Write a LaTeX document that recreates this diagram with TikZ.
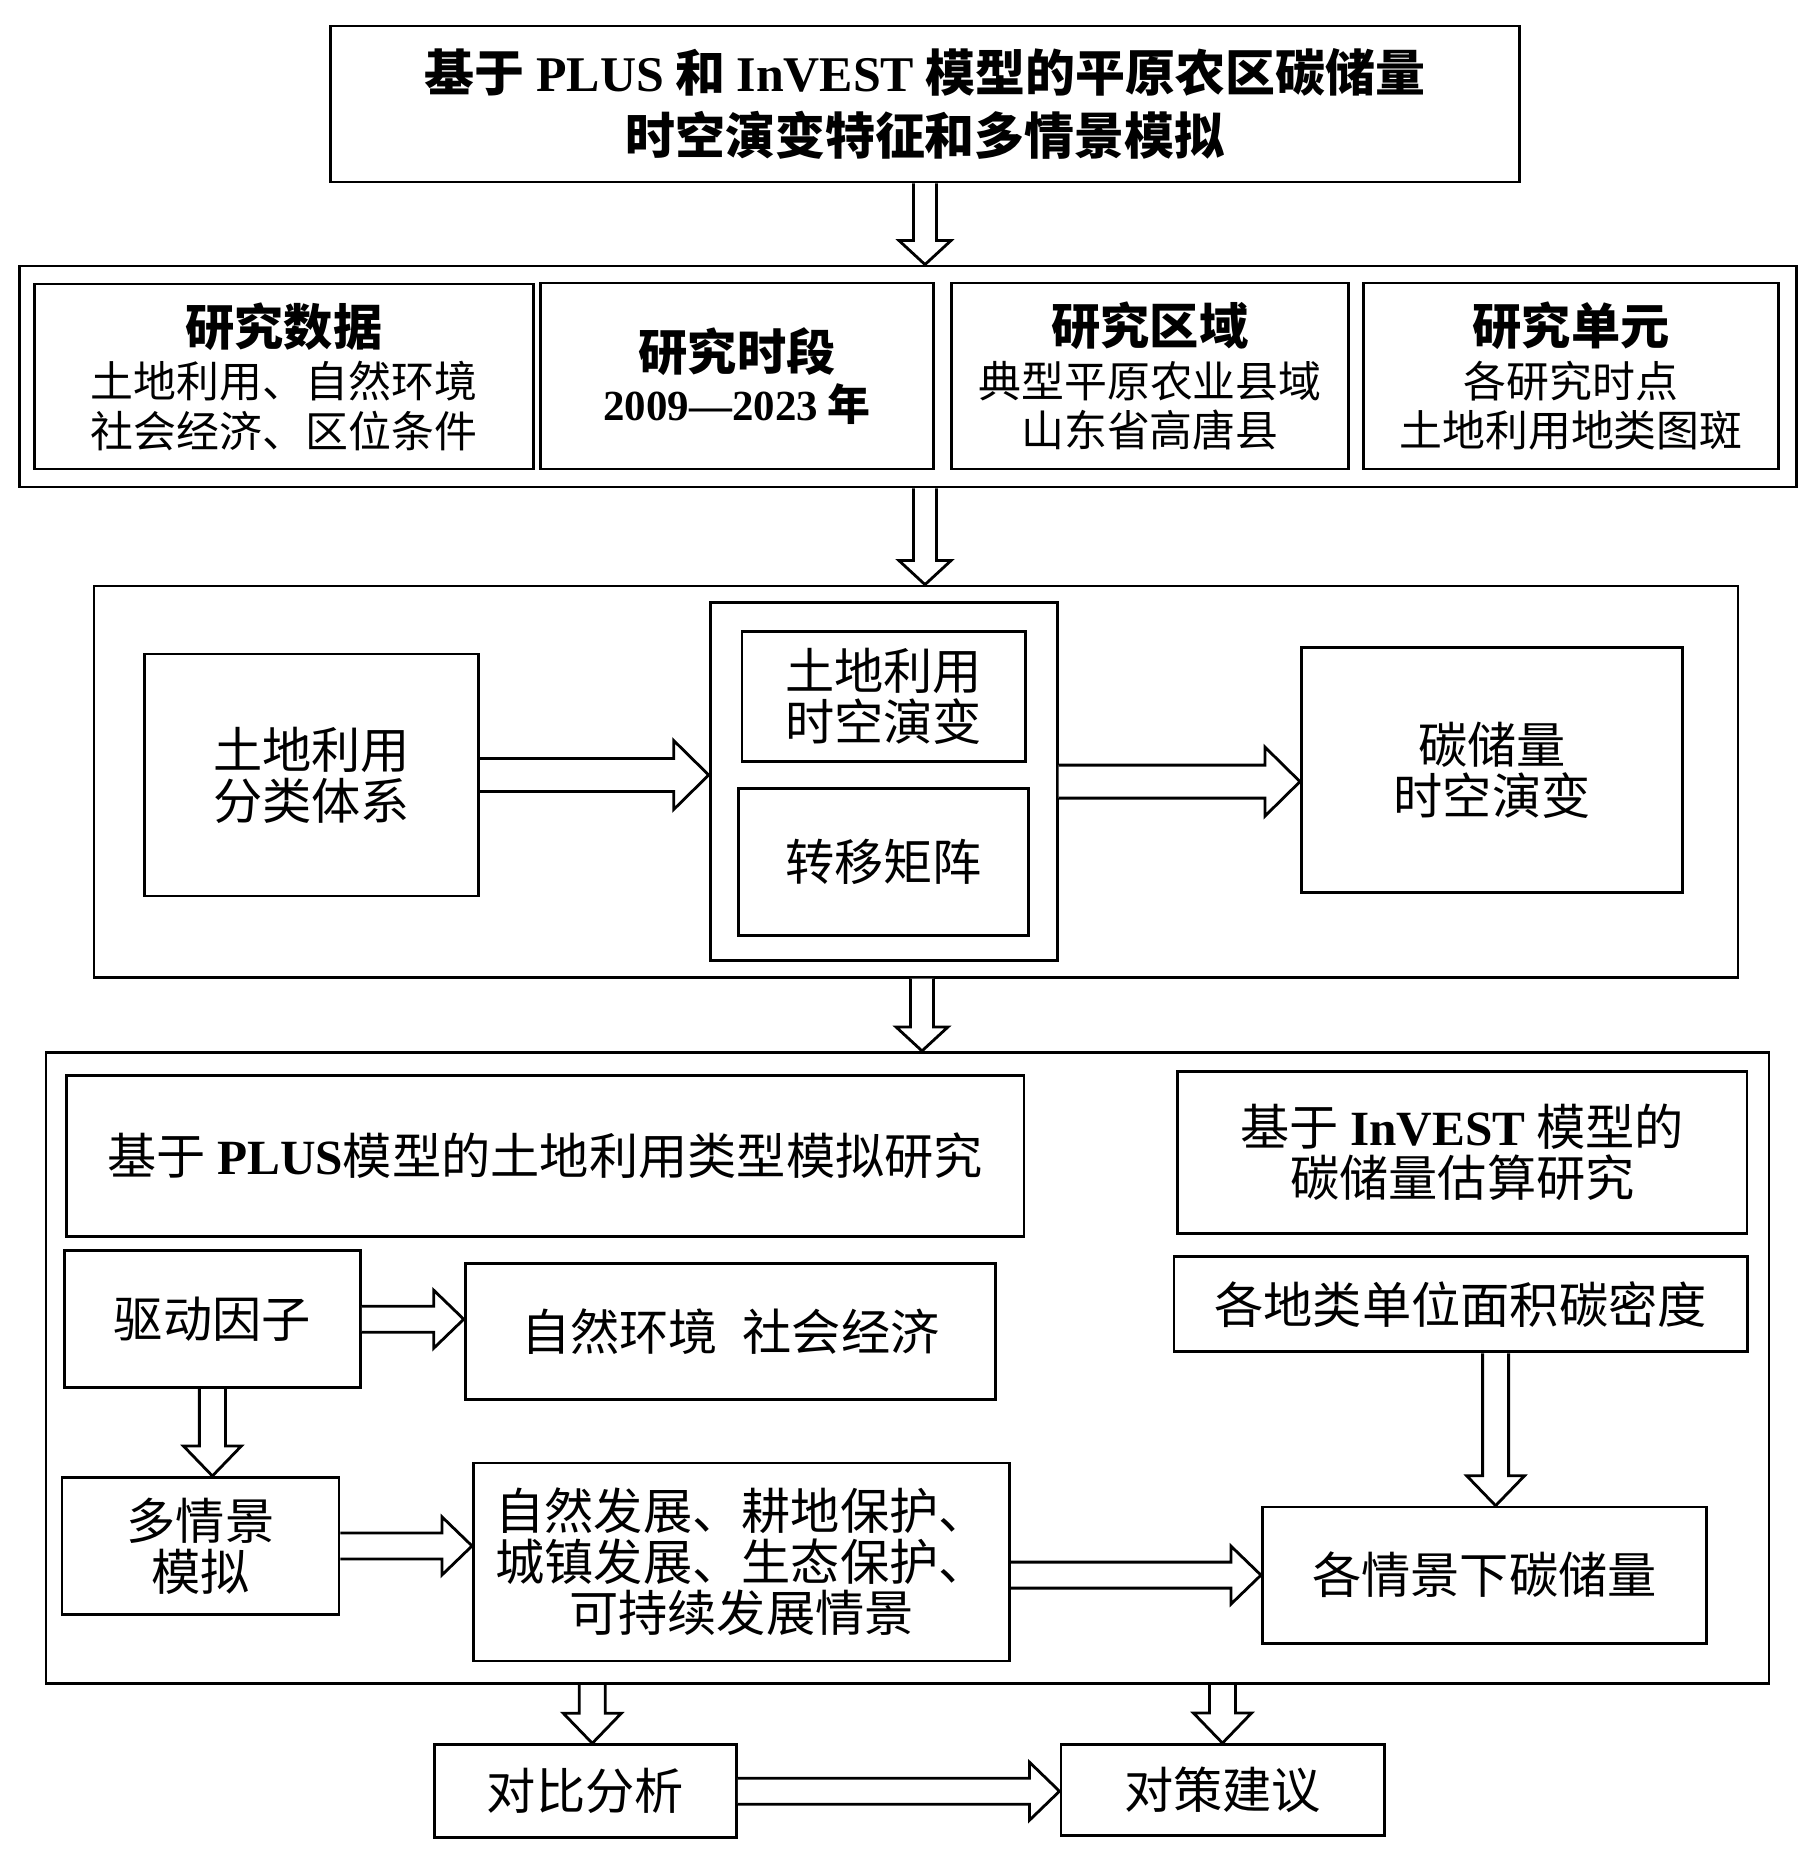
\documentclass[tikz,border=0pt]{standalone}
\usepackage{fontspec}
\setmainfont{Noto Sans CJK SC}
\newfontfamily\latfont{Liberation Serif}
\usetikzlibrary{calc}

\newcommand{\entext}[1]{{\latfont\bfseries #1}}
% hollow block arrows, sizes set by \shaftw, \headw, \headl
\newcommand{\shaftw}{0.12cm}
\newcommand{\headw}{0.26cm}
\newcommand{\headl}{0.25cm}
\newcommand{\arrowdown}[2]{%
  \draw[blockarrow] let \p1=(#1), \p2=(#2) in
    (\x1-\shaftw,\y1) -- (\x1-\shaftw,\y2+\headl) -- (\x1-\headw,\y2+\headl)
    -- (\x1,\y2) -- (\x1+\headw,\y2+\headl) -- (\x1+\shaftw,\y2+\headl) -- (\x1+\shaftw,\y1);}
\newcommand{\arrowright}[2]{%
  \draw[blockarrow] let \p1=(#1), \p2=(#2) in
    (\x1,\y1+\shaftw) -- (\x2-\headl,\y1+\shaftw) -- (\x2-\headl,\y1+\headw)
    -- (\x2,\y1) -- (\x2-\headl,\y1-\headw) -- (\x2-\headl,\y1-\shaftw) -- (\x1,\y1-\shaftw);}

\begin{document}
\begin{tikzpicture}[x=0.01cm,y=-0.01cm]
\tikzstyle{box}=[draw, line width=0.8pt, inner sep=0pt, align=center, font=\fontsize{14}{14.5}\selectfont]
\tikzstyle{small}=[font=\fontsize{12.2}{14}\selectfont]
\tikzstyle{blockarrow}=[line width=0.8pt, fill=white, line join=miter]
\useasboundingbox (0,0) rectangle (1815,1871);

% title
\node[box, minimum width=11.89cm, minimum height=1.56cm, font=\fontsize{14.2}{18}\selectfont\bfseries] (title) at (925,104)
  {基于 \entext{PLUS} 和 \entext{InVEST} 模型的平原农区碳储量\\时空演变特征和多情景模拟};

% study data
\node[box, minimum width=17.76cm, minimum height=2.21cm] (sec2) at (908,376.5) {};
\node[box, small, minimum width=4.99cm, minimum height=1.85cm] (data) at (284,376.5)
  {{\fontsize{14}{14}\selectfont\bfseries 研究数据}\\[1pt]土地利用、自然环境\\社会经济、区位条件};
\node[box, small, minimum width=3.93cm, minimum height=1.86cm] (period) at (737,376)
  {{\fontsize{14}{14}\selectfont\bfseries 研究时段}\\[0pt]\entext{2009—2023} {\bfseries 年}};
\node[box, small, minimum width=3.97cm, minimum height=1.86cm] (area) at (1150,376)
  {{\fontsize{14}{14}\selectfont\bfseries 研究区域}\\[1pt]典型平原农业县域\\山东省高唐县};
\node[box, small, minimum width=4.14cm, minimum height=1.86cm] (unit) at (1571,376)
  {{\fontsize{14}{14}\selectfont\bfseries 研究单元}\\[1pt]各研究时点\\土地利用地类图斑};

% land use change
\node[box, minimum width=16.43cm, minimum height=3.91cm] (sec3) at (916,781.6) {};
\node[box, minimum width=3.34cm, minimum height=2.42cm] (cls) at (311.5,775) {土地利用\\分类体系};
\node[box, minimum width=3.47cm, minimum height=3.58cm] (mid) at (883.7,781.6) {};
\node[box, minimum width=2.83cm, minimum height=1.30cm] (lucc) at (883.6,696.3) {土地利用\\时空演变};
\node[box, minimum width=2.90cm, minimum height=1.47cm] (mat) at (883.6,862.2) {转移矩阵};
\node[box, minimum width=3.81cm, minimum height=2.45cm] (cst) at (1492,770.3) {碳储量\\时空演变};

% simulation
\node[box, minimum width=17.22cm, minimum height=6.31cm] (sec4) at (907.5,1368) {};
\node[box, minimum width=9.57cm, minimum height=1.61cm] (plus) at (545.3,1155.7)
  {基于 \entext{PLUS}模型的土地利用类型模拟研究};
\node[box, minimum width=5.69cm, minimum height=1.62cm] (inv) at (1462.4,1152.7)
  {基于 \entext{InVEST} 模型的\\碳储量估算研究};
\node[box, minimum width=2.96cm, minimum height=1.37cm] (drv) at (212.4,1319.2) {驱动因子};
\node[box, minimum width=5.30cm, minimum height=1.36cm] (fac) at (730.3,1331.7) {自然环境\hspace{0.5em}社会经济};
\node[box, minimum width=5.73cm, minimum height=0.95cm] (dens) at (1460.6,1304.3) {各地类单位面积碳密度};
\node[box, minimum width=2.77cm, minimum height=1.37cm] (mul) at (200.5,1545.9) {多情景\\模拟};
\node[box, minimum width=5.36cm, minimum height=1.98cm] (scn) at (741.6,1562)
  {自然发展、耕地保护、\\城镇发展、生态保护、\\可持续发展情景};
\node[box, minimum width=4.44cm, minimum height=1.36cm] (res) at (1484.5,1575.1) {各情景下碳储量};

% results
\node[box, minimum width=3.02cm, minimum height=0.93cm] (cmp) at (585.3,1791.2) {对比分析};
\node[box, minimum width=3.23cm, minimum height=0.91cm] (adv) at (1222.5,1790) {对策建议};

% arrows between sections
\renewcommand{\shaftw}{0.115cm}\renewcommand{\headw}{0.26cm}\renewcommand{\headl}{0.24cm}
\arrowdown{title.south}{sec2.north}
\arrowdown{title.south |- sec2.south}{title.south |- sec3.north}
\arrowdown{[xshift=-0.03cm]title.south |- sec3.south}{sec4.north}

\renewcommand{\shaftw}{0.165cm}\renewcommand{\headw}{0.345cm}\renewcommand{\headl}{0.35cm}
\arrowright{cls.east}{mid.west}
\arrowright{mid.east}{cst.west}

\renewcommand{\shaftw}{0.13cm}\renewcommand{\headw}{0.29cm}\renewcommand{\headl}{0.3cm}
\arrowright{drv.east}{fac.west}
\arrowdown{drv.south}{mul.north}
\arrowright{mul.east}{scn.west}
\arrowright{scn.east |- res.west}{res.west}
\arrowdown{[xshift=0.35cm]dens.south}{[xshift=0.35cm]dens.south |- res.north}
\arrowdown{[xshift=0.07cm]cmp.north |- sec4.south}{[xshift=0.07cm]cmp.north}
\arrowdown{adv.north |- sec4.south}{adv.north}
\arrowright{cmp.east}{adv.west}
\end{tikzpicture}
\end{document}
